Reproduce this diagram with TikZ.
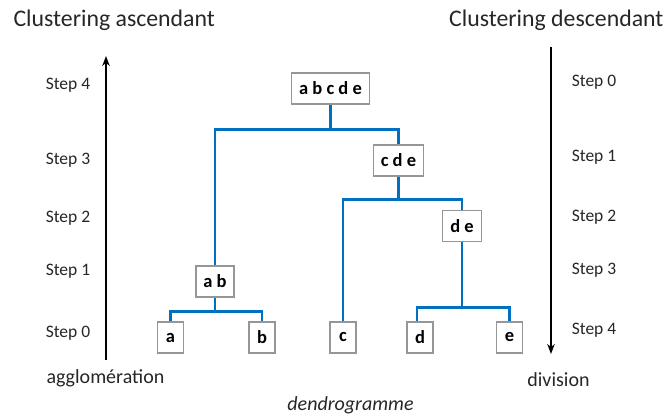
\documentclass[tikz,border=0pt]{standalone}
\usepackage{fontspec}
\setmainfont{Carlito}
\usetikzlibrary{arrows.meta}
\definecolor{lineblue}{RGB}{0,112,192}
\definecolor{boxgray}{RGB}{150,150,150}
\tikzset{
  x=1pt, y=-1pt,
  clbox/.style={draw=boxgray, line width=1.3pt, fill=white, font=\fontsize{18.5}{20}\selectfont\bfseries, minimum height=31pt, minimum width=26pt, inner xsep=7.5pt, inner ysep=4pt},
  branch/.style={draw=lineblue, line width=2.8pt},
  steplbl/.style={font=\fontsize{17.5}{19}\selectfont, text=black!85},
  botlbl/.style={font=\fontsize{20}{22}\selectfont, text=black!85},
  title/.style={font=\fontsize{23.8}{27}\selectfont, text=black!85},
  axis/.style={line width=2.3pt, -{Stealth[length=10pt,width=7.5pt]}},
}
\begin{document}
\begin{tikzpicture}
\useasboundingbox (0,0) rectangle (670,418);
% titles
\node[title, anchor=west] (tl) at (10,20) {Clustering ascendant};
\node[title, anchor=east] (tr) at (667,20) {Clustering descendant};
% axes
\coordinate (la0) at (106,360);
\coordinate (la1) at (106,56);
\draw[axis] (la0) -- (la1);
\coordinate (ra0) at (551,47);
\coordinate (ra1) at (551,354);
\draw[axis] (ra0) -- (ra1);
% left steps
\node[steplbl] (ls4) at (68,85) {Step 4};
\node[steplbl] (ls3) at (68,160) {Step 3};
\node[steplbl] (ls2) at (68,218) {Step 2};
\node[steplbl] (ls1) at (68,271) {Step 1};
\node[steplbl] (ls0) at (68,333) {Step 0};
% right steps
\node[steplbl] (rs0) at (594,82) {Step 0};
\node[steplbl] (rs1) at (594,157) {Step 1};
\node[steplbl] (rs2) at (594,217) {Step 2};
\node[steplbl] (rs3) at (594,270) {Step 3};
\node[steplbl] (rs4) at (594,330) {Step 4};
% bottom labels
\node[botlbl, anchor=west] (agg) at (43,378) {agglomération};
\node[botlbl] (div) at (558.5,380) {division};
\node[botlbl, font=\fontsize{20}{22}\selectfont\itshape] (dend) at (350.5,405) {dendrogramme};
% tree nodes
\node[clbox] (abcde) at (330.5,88.5) {a b c d e};
\node[clbox] (cde) at (398.5,160.5) {c d e};
\node[clbox] (de) at (462,226) {d e};
\node[clbox] (ab) at (215,281.5) {a b};
\node[clbox] (a) at (170.5,337.5) {a};
\node[clbox] (b) at (262,337.5) {b};
\node[clbox] (c) at (343,337.5) {c};
\node[clbox] (d) at (420,337.5) {d};
\node[clbox] (e) at (509.5,337.5) {e};
% branches
\draw[branch] (abcde.south) -- ++(0,25) -| (ab.north);
\draw[branch] (abcde.south) ++(0,25) -| (cde.north);
\draw[branch] (cde.south) -- ++(0,23) -| (c.north);
\draw[branch] (cde.south) ++(0,23) -| (de.north);
\draw[branch] (de.south) -- ++(0,65) -| ([xshift=-3pt]d.north);
\draw[branch] (de.south) ++(0,65) -| (e.north);
\draw[branch] (ab.south) -- ++(0,14) -| (a.north);
\draw[branch] (ab.south) ++(0,14) -| (b.north);
\end{tikzpicture}
\end{document}
